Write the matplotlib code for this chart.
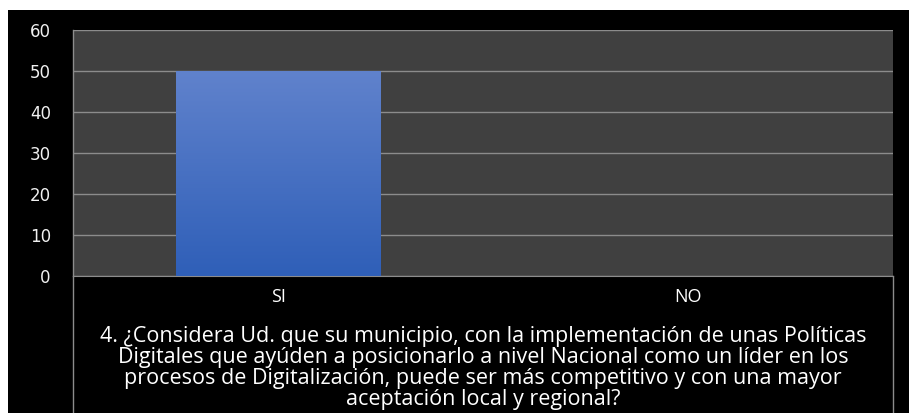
import matplotlib as mpl
import matplotlib.pyplot as plt
import numpy as np
from matplotlib.patches import Rectangle

mpl.use('Agg')

categorias = ['SI', 'NO']
valores = [50, 0]
pregunta = ("4. ¿Considera Ud. que su municipio, con la implementación de unas Políticas\n"
            "Digitales que ayúden a posicionarlo a nivel Nacional como un líder en los\n"
            "procesos de Digitalización, puede ser más competitivo y con una mayor\n"
            "aceptación local y regional?")

W, H = 909, 413
fig = plt.figure(figsize=(W / 100, H / 100), dpi=100, facecolor='white')
# fondo negro del grafico (deja una franja blanca arriba y a la izquierda)
fig.patches.append(Rectangle((8 / W, 0), 1, (H - 10) / H, transform=fig.transFigure,
                             facecolor='black', edgecolor='none', zorder=-10))

ax = fig.add_axes([73 / W, (H - 276) / H, 820 / W, 246 / H])
ax.set_facecolor('#404040')

x = np.arange(len(categorias))
barras = ax.bar(x, valores, width=0.5, color='#4a70c4', zorder=2)

# degradado vertical en las barras
grad = np.linspace(0, 1, 256).reshape(-1, 1)
cmap = mpl.colors.LinearSegmentedColormap.from_list('azul', ['#2f5fb8', '#6082cc'])
for b in barras:
    if b.get_height() <= 0:
        continue
    im = ax.imshow(grad, cmap=cmap, origin='lower', aspect='auto', zorder=3,
                   extent=[b.get_x(), b.get_x() + b.get_width(), 0, b.get_height()])
    im.set_clip_path(b)

ax.set_xlim(-0.5, 1.5)
ax.set_ylim(0, 60)
ax.set_yticks(range(0, 61, 10))
ax.yaxis.grid(True, color='#8c8c8c', linewidth=1)
ax.set_axisbelow(True)
ax.tick_params(axis='y', length=0, pad=16, colors='#f0f0f0', labelsize=12)
ax.set_xticks(x)
ax.set_xticklabels(categorias, fontfamily='Open Sans', fontsize=13)
ax.tick_params(axis='x', length=0, pad=9, colors='white')
for lbl in ax.get_yticklabels():
    lbl.set_fontfamily('DejaVu Sans')

for s in ['top', 'right', 'left']:
    ax.spines[s].set_visible(False)
ax.spines['bottom'].set_color('#8c8c8c')

# lineas verticales de la tabla de categorias
for xv in [-0.5, 1.5]:
    ax.plot([xv, xv], [0, -137 / 246], transform=ax.get_xaxis_transform(),
            color='#8c8c8c', linewidth=1, clip_on=False)
ax.plot([-0.5, -0.5], [0, 1], transform=ax.get_xaxis_transform(),
        color='#8c8c8c', linewidth=1, clip_on=False)

ax.set_xlabel(pregunta, color='white', fontfamily='Open Sans', fontsize=15.5,
              linespacing=1.0, labelpad=14)

plt.savefig('out.png', dpi=100, facecolor=fig.get_facecolor())
